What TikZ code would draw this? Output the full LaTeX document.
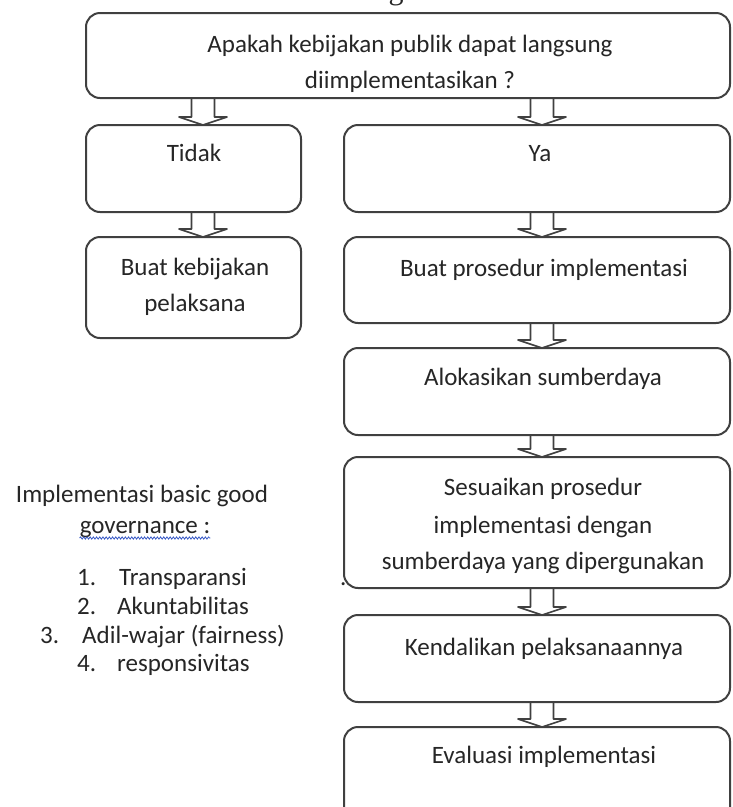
\documentclass[tikz,border=0pt]{standalone}
\usepackage{fontspec}
\setmainfont{Carlito}
\newfontfamily\headserif{Liberation Serif}
\usetikzlibrary{calc,decorations.pathmorphing}

\definecolor{linegray}{HTML}{404040}
\definecolor{textgray}{HTML}{262626}
\definecolor{spellblue}{HTML}{3A5BC7}

\tikzset{
  box/.style={draw=linegray, line width=2pt, rounded corners=14pt,
    inner sep=0pt, outer sep=0pt, anchor=north west},
  txt/.style={anchor=base, inner sep=0pt, text=textgray,
    font=\fontsize{25}{30}\selectfont},
  txtw/.style={txt, anchor=base west},
  blockarrow/.style={draw=linegray, line width=1.6pt, line join=round,
    to path={let \p1=(\tikztostart), \p2=(\tikztotarget) in
      (\x1-11.5pt,\y1) -- (\x1-11.5pt,\y2+8pt) -- (\x1-24pt,\y2+8pt)
      -- (\x1,\y2) -- (\x1+24pt,\y2+8pt) -- (\x1+11.5pt,\y2+8pt)
      -- (\x1+11.5pt,\y1)}},
}

\begin{document}
\begin{tikzpicture}[x=1pt,y=-1pt]
  \useasboundingbox (0,0) rectangle (732,807);
  \clip (0,0) rectangle (732,807);
  \fill[white] (0,0) rectangle (732,807);

  % column axes of the block arrows
  \coordinate (colL) at (203,0);
  \coordinate (colR) at (542,0);

  % fragment of the heading above
  \node[anchor=base, inner sep=0pt, text=textgray,
        font=\headserif\fontsize{30}{30}\selectfont] (hdg) at (396,-1) {g};

  % boxes
  \node[box, minimum width=644pt, minimum height=85pt] (q)    at (86,13)  {};
  \node[box, minimum width=215pt, minimum height=87pt] (no)   at (86,125) {};
  \node[box, minimum width=386pt, minimum height=87pt] (yes)  at (344,125) {};
  \node[box, minimum width=215pt, minimum height=101pt] (pol) at (86,237) {};
  \node[box, minimum width=386pt, minimum height=86pt] (proc) at (344,237) {};
  \node[box, minimum width=386pt, minimum height=87pt] (res)  at (344,348) {};
  \node[box, minimum width=386pt, minimum height=131pt] (adj) at (344,457) {};
  \node[box, minimum width=386pt, minimum height=87pt] (ctl)  at (344,615) {};
  \node[box, minimum width=386pt, minimum height=120pt] (eva) at (344,727) {};

  % box texts
  \node[txt] (q1) at (410,52) {Apakah kebijakan publik dapat langsung};
  \node[txt] (q2) at (410,88) {diimplementasikan ?};
  \node[txt] (noT) at (194,161) {Tidak};
  \node[txt] (yesT) at (540,161) {Ya};
  \node[txt] (pol1) at (195,275) {Buat kebijakan};
  \node[txt] (pol2) at (195,311) {pelaksana};
  \node[txt] (procT) at (544,276) {Buat prosedur implementasi};
  \node[txt] (resT) at (543,385) {Alokasikan sumberdaya};
  \node[txt] (adj1) at (543,495) {Sesuaikan prosedur};
  \node[txt] (adj2) at (543,533) {implementasi dengan};
  \node[txt] (adj3) at (543,569) {sumberdaya yang dipergunakan};
  \node[txt] (ctlT) at (544,655) {Kendalikan pelaksanaannya};
  \node[txt] (evaT) at (544,763) {Evaluasi implementasi};
  \node[txtw] (dot) at (340,585) {.};

  % block arrows
  \draw[blockarrow] (q.south -| colL) to (no.north -| colL);
  \draw[blockarrow] (q.south -| colR) to (yes.north -| colR);
  \draw[blockarrow] (no.south -| colL) to (pol.north -| colL);
  \draw[blockarrow] (yes.south -| colR) to (proc.north -| colR);
  \draw[blockarrow] (proc.south -| colR) to (res.north -| colR);
  \draw[blockarrow] (res.south -| colR) to (adj.north -| colR);
  \draw[blockarrow] (adj.south -| colR) to (ctl.north -| colR);
  \draw[blockarrow] (ctl.south -| colR) to (eva.north -| colR);

  % side note on good governance
  \node[txt] (gg1) at (142,502) {Implementasi basic good};
  \node[txt] (gg2) at (145,533) {governance :};
  \draw[spellblue, line width=0.8pt, decorate,
        decoration={snake, amplitude=1.1pt, segment length=3.2pt}]
    ($(gg2.base west)+(0,5)$) -- ($(gg2.base east)+(0,5)$);

  \node[txtw] (n1) at (77,585) {1.};
  \node[txtw] (i1) at (119,585) {Transparansi};
  \node[txtw] (n2) at (77,614) {2.};
  \node[txtw] (i2) at (117,614) {Akuntabilitas};
  \node[txtw] (n3) at (40,643) {3.};
  \node[txtw] (i3) at (82,643) {Adil-wajar (fairness)};
  \node[txtw] (n4) at (77,671) {4.};
  \node[txtw] (i4) at (117,671) {responsivitas};
\end{tikzpicture}
\end{document}
